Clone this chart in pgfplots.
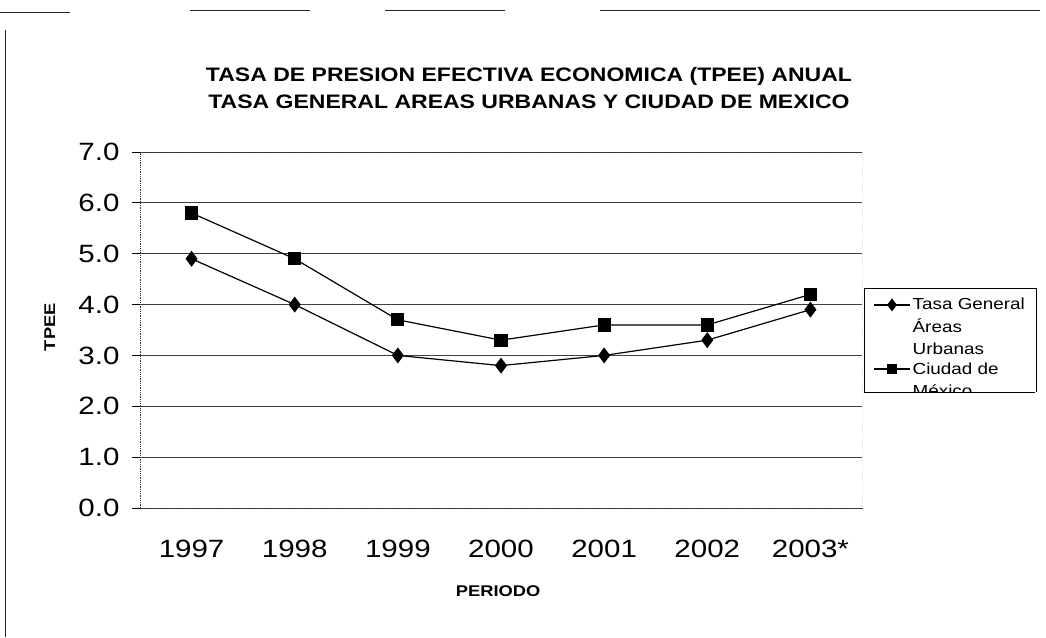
\documentclass[border=0pt]{standalone}
\usepackage{fontspec}
\setmainfont{Liberation Sans}
\newfontfamily\widefont[FakeStretch=1.18]{Liberation Sans}
\usepackage{pgfplots}
\usepackage{pgfplotstable}
\pgfplotsset{compat=1.18}

% TPEE anual: tasa general areas urbanas y Ciudad de Mexico
\pgfplotstableread{
x general cdmx
0 4.9 5.8
1 4.0 4.9
2 3.0 3.7
3 2.8 3.3
4 3.0 3.6
5 3.3 3.6
6 3.9 4.2
}\tpee

\begin{document}
\begin{tikzpicture}
\path[use as bounding box] (0pt,0pt) rectangle (1046pt,637pt);
% marco exterior (escaneado, incompleto)
\draw[black!85, line width=0.8pt] (5pt,0pt) -- (5pt,607pt);
\draw[black!85, line width=0.8pt] (0pt,625pt) -- (70pt,625pt);
\draw[black!85, line width=0.8pt] (190pt,627pt) -- (310pt,627pt);
\draw[black!85, line width=0.8pt] (385pt,627pt) -- (505pt,627pt);
\draw[black!85, line width=0.8pt] (600pt,627pt) -- (1040pt,627pt);
\node[align=center, font=\widefont\fontsize{19.5}{27}\selectfont\bfseries] at (529pt,549pt)
  {TASA DE PRESION EFECTIVA ECONOMICA (TPEE) ANUAL\\TASA GENERAL AREAS URBANAS Y CIUDAD DE MEXICO};
\begin{axis}[
    at={(140pt,129pt)}, anchor=south west,
    scale only axis, width=722pt, height=356pt,
    xmin=-0.5, xmax=6.5, ymin=0, ymax=7,
    axis x line*=bottom, axis y line*=left,
    axis line style={black!80, line width=0.8pt, densely dotted},
    xtick={0,...,6},
    xticklabels={1997,1998,1999,2000,2001,2002,2003*},
    major x tick style={draw=none},
    extra x ticks={-0.5,0.5,...,6.5},
    extra x tick labels={},
    extra x tick style={grid=none, major tick length=8pt, tick style={black, line width=0.8pt, solid}},
    ytick={0,...,7},
    y tick label style={/pgf/number format/fixed, /pgf/number format/fixed zerofill, /pgf/number format/precision=1},
    /pgf/number format/assume math mode=true,
    tick align=outside,
    major tick length=8pt,
    tick style={black, line width=0.8pt, solid},
    ymajorgrids,
    major grid style={black!75, line width=0.8pt, solid},
    ticklabel style={font=\widefont\fontsize{25}{25}\selectfont},
    xticklabel style={yshift=-21pt},
    yticklabel style={xshift=-9pt},
    xlabel={PERIODO},
    xlabel style={font=\widefont\fontsize{15.5}{15.5}\selectfont\bfseries, at={(axis description cs:0.496,-0.233)}, anchor=center},
    ylabel={TPEE},
    ylabel style={font=\widefont\fontsize{15.5}{15.5}\selectfont\bfseries, at={(axis description cs:-0.125,0.508)}, anchor=center},
    legend style={at={(axis description cs:1.0028,0.618)}, anchor=north west,
        draw=black, line width=0.8pt, inner xsep=9pt, inner ysep=8pt,
        font=\widefont\fontsize{16}{22.5}\selectfont,
        cells={align=left, anchor=west}, row sep=2pt},
    legend image code/.code={
        \draw[mark repeat=2, mark phase=2, #1] plot coordinates {(0pt,0pt) (18pt,0pt) (36pt,0pt)};},
]
\addplot[black, line width=1.2pt, mark=diamond*, mark size=7pt, mark options={solid},
    legend image post style={yshift=22.5pt, mark size=5.5pt}] table[x=x, y=general] {\tpee};
\addlegendentry{Tasa General\\Áreas\\Urbanas}
\addplot[black, line width=1.2pt, mark=square*, mark size=6pt, mark options={solid},
    legend image post style={yshift=11.25pt, mark size=4.5pt}] table[x=x, y=cdmx] {\tpee};
\addlegendentry{Ciudad de\\México}
\draw[black!80, line width=0.8pt, densely dotted] (rel axis cs:0,1) -- (rel axis cs:1,1) -- (rel axis cs:1,0);
\end{axis}
% la leyenda aparece cortada por abajo
\fill[white] (863.4pt,215pt) rectangle (1042pt,244.6pt);
\draw[black, line width=0.8pt] (864pt,245pt) -- (1035pt,245pt);
\end{tikzpicture}
\end{document}
